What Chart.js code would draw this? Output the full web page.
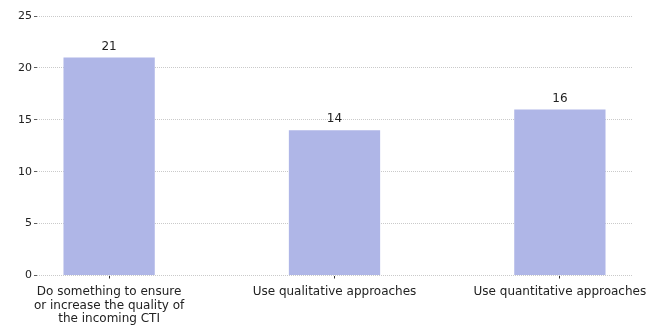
<!DOCTYPE html>
<html>
<head>
<meta charset="utf-8">
<script src="https://cdn.jsdelivr.net/npm/chart.js@4/dist/chart.umd.min.js"></script>
<style>
  html, body { margin: 0; padding: 0; background: #fff; }
  #wrap { width: 658px; height: 325px; }
</style>
</head>
<body>
<div id="wrap"><canvas id="barChart" width="658" height="325"></canvas></div>
<script>
// categories and counts
const categories = [
    ['Do something to ensure', 'or increase the quality of', 'the incoming CTI'],
    ['Use qualitative approaches'],
    ['Use quantitative approaches']
];
const counts = [21, 14, 16];
const yTicks = [0, 5, 10, 15, 20, 25];

// value labels on top of each bar
const barValueLabels = {
    id: 'barValueLabels',
    afterDatasetsDraw(chart) {
        const ctx = chart.ctx;
        const meta = chart.getDatasetMeta(0);
        ctx.save();
        ctx.font = '12px "DejaVu Sans"';
        ctx.fillStyle = '#222';
        ctx.textAlign = 'center';
        ctx.textBaseline = 'bottom';
        meta.data.forEach((bar, i) => {
            ctx.fillText(String(counts[i]), bar.x, bar.y - 5);
        });
        ctx.restore();
    }
};

const ctx = document.getElementById('barChart').getContext('2d');
new Chart(ctx, {
    type: 'bar',
    data: {
        datasets: [{
            data: counts.map((v, i) => ({ x: i, y: v })),
            backgroundColor: '#afb6e7',
            borderWidth: 0,
            barPercentage: 1,
            categoryPercentage: 0.405
        }]
    },
    plugins: [barValueLabels],
    options: {
        responsive: false,
        animation: false,
        layout: { padding: { top: 16, left: 16, right: 26, bottom: -8 } },
        plugins: {
            legend: { display: false },
            tooltip: { enabled: false }
        },
        scales: {
            x: {
                type: 'linear',
                offset: false,
                min: -0.32,
                max: 2.32,
                afterBuildTicks: (scale) => {
                    scale.ticks = categories.map((c, i) => ({ value: i }));
                },
                ticks: {
                    autoSkip: false,
                    maxRotation: 0,
                    padding: 7,
                    color: '#222',
                    font: { family: 'DejaVu Sans', size: 12, lineHeight: 1.125 },
                    callback: (v, i) => categories[i]
                },
                grid: {
                    offset: false,
                    drawOnChartArea: false,
                    tickLength: 3,
                    tickColor: '#333'
                },
                border: { display: false }
            },
            y: {
                min: 0,
                max: 25,
                afterBuildTicks: (scale) => {
                    scale.ticks = yTicks.map(v => ({ value: v }));
                },
                ticks: {
                    padding: 2,
                    color: '#222',
                    font: { family: 'DejaVu Sans', size: 11 }
                },
                grid: {
                    color: '#bdbdbd',
                    lineWidth: 0.8,
                    tickLength: 3,
                    tickColor: '#333',
                    tickBorderDash: []
                },
                border: { display: false, dash: [1, 1] }
            }
        }
    }
});
</script>
</body>
</html>
